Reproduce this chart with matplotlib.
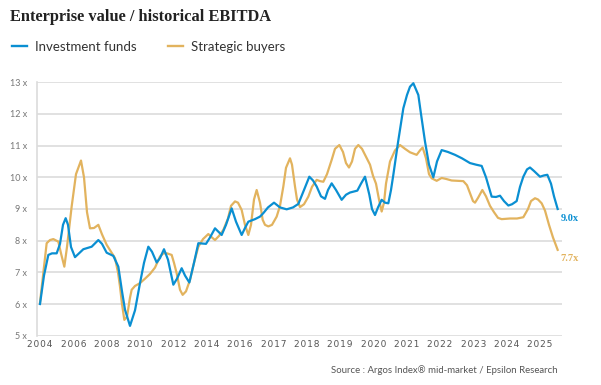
import matplotlib
matplotlib.use("Agg")
import matplotlib.pyplot as plt
from matplotlib.lines import Line2D

# ---------------- data (x in tick-label index units) ----------------
tick_labels = ["2004", "2006", "2008", "2010", "2012", "2014", "2016", "2017",
               "2018", "2019", "2020", "2021", "2022", "2023", "2024", "2025"]

funds_x = [0, 0.12, 0.25, 0.36, 0.50, 0.60, 0.69, 0.77, 0.84, 0.93, 1.05, 1.17, 1.30,
           1.55, 1.75, 1.86, 2.00, 2.20, 2.35, 2.46, 2.55, 2.70, 2.85, 3.00, 3.12, 3.25,
           3.36, 3.50, 3.60, 3.72, 3.84, 4.00, 4.11, 4.25, 4.35, 4.48, 4.62, 4.75, 4.98,
           5.10, 5.25, 5.45, 5.58, 5.75, 5.88, 6.05, 6.15, 6.25, 6.45, 6.60, 6.70, 6.84,
           7.02, 7.20, 7.40, 7.59, 7.75, 7.92, 8.08, 8.19, 8.30, 8.43, 8.55, 8.64, 8.75,
           8.88, 9.05, 9.18, 9.30, 9.52, 9.63, 9.75, 9.88, 9.96, 10.05, 10.14, 10.25,
           10.35, 10.45, 10.53, 10.60, 10.74, 10.90, 11.01, 11.10, 11.20, 11.35, 11.43,
           11.55, 11.67, 11.80, 11.91, 12.05, 12.24, 12.45, 12.66, 12.90, 13.08, 13.25,
           13.38, 13.55, 13.68, 13.80, 13.92, 14.05, 14.16, 14.30, 14.40, 14.50, 14.61,
           14.70, 14.82, 15.00, 15.12, 15.22, 15.33, 15.42, 15.53]
funds_y = [6.0, 6.9, 7.55, 7.6, 7.6, 7.9, 8.5, 8.71, 8.5, 7.8, 7.48, 7.6, 7.73,
           7.81, 8.02, 7.9, 7.62, 7.52, 7.18, 6.4, 5.82, 5.31, 5.8, 6.66, 7.3, 7.81,
           7.65, 7.31, 7.45, 7.73, 7.4, 6.61, 6.8, 7.13, 6.9, 6.68, 7.3, 7.92, 7.9,
           8.1, 8.39, 8.18, 8.5, 9.02, 8.6, 8.18, 8.4, 8.6, 8.68, 8.76, 8.87, 9.05,
           9.2, 9.05, 8.99, 9.05, 9.16, 9.6, 10.02, 9.9, 9.71, 9.4, 9.32, 9.6, 9.81,
           9.6, 9.29, 9.45, 9.52, 9.58, 9.8, 10.02, 9.45, 9.0, 8.81, 9.05, 9.29,
           9.2, 9.18, 9.6, 10.08, 11.1, 12.18, 12.6, 12.86, 12.97, 12.6, 12.0,
           11.13, 10.4, 10.0, 10.5, 10.86, 10.8, 10.71, 10.6, 10.45, 10.4, 10.36,
           10.0, 9.39, 9.38, 9.42, 9.25, 9.11, 9.15, 9.25, 9.7, 10.02, 10.25,
           10.31, 10.2, 10.02, 10.06, 10.08, 9.8, 9.4, 9.0]

buyers_x = [0, 0.09, 0.20, 0.30, 0.40, 0.55, 0.63, 0.73, 0.81, 0.95, 1.08, 1.23, 1.32,
            1.41, 1.50, 1.62, 1.75, 1.86, 2.00, 2.13, 2.25, 2.34, 2.40, 2.46, 2.53, 2.61,
            2.70, 2.75, 2.85, 3.00, 3.15, 3.30, 3.45, 3.60, 3.70, 3.81, 3.95, 4.02, 4.10,
            4.20, 4.28, 4.38, 4.50, 4.62, 4.75, 4.89, 5.05, 5.16, 5.25, 5.37, 5.50, 5.64,
            5.73, 5.85, 5.94, 6.05, 6.15, 6.25, 6.33, 6.42, 6.50, 6.60, 6.68, 6.75, 6.85,
            6.96, 7.10, 7.20, 7.30, 7.38, 7.50, 7.56, 7.65, 7.71, 7.80, 7.92, 8.05, 8.16,
            8.30, 8.40, 8.50, 8.61, 8.75, 8.85, 8.98, 9.09, 9.18, 9.27, 9.36, 9.45, 9.55,
            9.66, 9.78, 9.90, 9.99, 10.08, 10.17, 10.25, 10.32, 10.38, 10.50, 10.65,
            10.80, 10.95, 11.10, 11.30, 11.40, 11.48, 11.58, 11.67, 11.75, 11.90, 12.05,
            12.18, 12.35, 12.54, 12.70, 12.81, 12.90, 12.99, 13.05, 13.14, 13.27, 13.38,
            13.50, 13.62, 13.74, 13.85, 14.10, 14.31, 14.50, 14.64, 14.73, 14.85, 14.94,
            15.05, 15.15, 15.27, 15.39, 15.53]
buyers_y = [6.05, 6.9, 7.92, 8.02, 8.05, 7.97, 7.6, 7.18, 7.8, 9.08, 10.1, 10.53, 10.0,
            8.9, 8.39, 8.4, 8.5, 8.2, 7.87, 7.65, 7.45, 7.0, 6.55, 6.0, 5.5, 5.6,
            6.2, 6.45, 6.57, 6.66, 6.8, 6.95, 7.15, 7.5, 7.6, 7.6, 7.55, 7.3, 6.97,
            6.45, 6.29, 6.4, 6.76, 7.3, 7.81, 8.05, 8.21, 8.1, 8.02, 8.15, 8.34, 8.7,
            9.1, 9.24, 9.2, 8.97, 8.5, 8.18, 8.5, 9.3, 9.6, 9.2, 8.66, 8.5, 8.45,
            8.5, 8.76, 9.1, 9.71, 10.3, 10.6, 10.4, 9.71, 9.3, 9.06, 9.15, 9.39, 9.7,
            9.92, 9.88, 9.86, 10.1, 10.55, 10.9, 11.02, 10.8, 10.45, 10.31, 10.5, 10.9, 11.02,
            10.9, 10.65, 10.4, 10.05, 9.8, 9.3, 8.92, 9.2, 9.8, 10.5, 10.85,
            11.02, 10.9, 10.79, 10.71, 10.85, 10.94, 10.6, 10.1, 9.97, 9.89, 9.98,
            9.95, 9.9, 9.89, 9.88, 9.75, 9.5, 9.25, 9.2, 9.35, 9.6, 9.4,
            9.1, 8.9, 8.72, 8.68, 8.7, 8.7, 8.74, 9.0, 9.25, 9.34, 9.3,
            9.18, 8.95, 8.5, 8.1, 7.71]

yticks = [5, 6, 7, 8, 9, 10, 11, 12, 13]
title = "Enterprise value / historical EBITDA"
series_names = ["Investment funds", "Strategic buyers"]
end_labels = ["9.0x", "7.7x"]
source = "Source : Argos Index\u00ae mid-market / Epsilon Research"

BLUE = "#0A8FD2"
GOLD = "#E2B35E"

fig = plt.figure(figsize=(6.01, 3.85), dpi=100)
ax = fig.add_axes([37 / 601, 1 - 335.7 / 385, 525 / 601, 253.4 / 385])

for y in yticks:
    ax.axhline(y, color="#DCDCDC", lw=1.2, zorder=1)

ax.plot(buyers_x, buyers_y, color=GOLD, lw=1.6, zorder=3, solid_joinstyle="round")
ax.plot(funds_x, funds_y, color=BLUE, lw=1.6, zorder=4, solid_joinstyle="round")

ax.set_xlim(-0.09, 15.66)
ax.set_ylim(5, 13)
for s in ["top", "right", "bottom"]:
    ax.spines[s].set_visible(False)
ax.spines["left"].set_color("#DCDCDC")
ax.spines["left"].set_linewidth(1.2)

ax.set_yticks(yticks)
ax.set_yticklabels([f"{v} x" for v in yticks], fontsize=6.5, color="#777777",
                   family="Lato")
ax.set_xticks(range(len(tick_labels)))
ax.set_xticklabels(["\u200a".join(t) for t in tick_labels], fontsize=6.5,
                   color="#555555", family="DejaVu Sans")
ax.tick_params(axis="both", length=0)
ax.tick_params(axis="y", pad=7)
ax.tick_params(axis="x", pad=3)

# end labels
ax.annotate(end_labels[0], xy=(funds_x[-1], funds_y[-1]), xytext=(2, -7),
            textcoords="offset points", color=BLUE, fontsize=7.5,
            family="Liberation Serif", fontweight="bold", va="center", ha="left")
ax.annotate(end_labels[1], xy=(buyers_x[-1], buyers_y[-1]), xytext=(2, -6),
            textcoords="offset points", color=GOLD, fontsize=7.5,
            family="Liberation Serif", fontweight="bold", va="center", ha="left")

fig.text(10 / 601, 1 - 17 / 385, title, fontsize=11.8, family="Liberation Serif",
         fontweight="bold", color="#222222", va="center", ha="left")

handles = [Line2D([], [], color=BLUE, lw=1.7), Line2D([], [], color=GOLD, lw=1.7)]
fig.legend(handles, series_names, loc="center left",
           bbox_to_anchor=(0 / 601, 1 - 47 / 385), ncol=2, frameon=False,
           prop={"family": "Lato", "size": 9.5}, labelcolor="#333333",
           handlelength=1.15, handletextpad=0.6, columnspacing=2.35)

fig.text(558 / 601, 1 - 370 / 385, source, fontsize=6.9, family="Lato",
         color="#555555", ha="right", va="center")

fig.savefig("out.png", dpi=100)
